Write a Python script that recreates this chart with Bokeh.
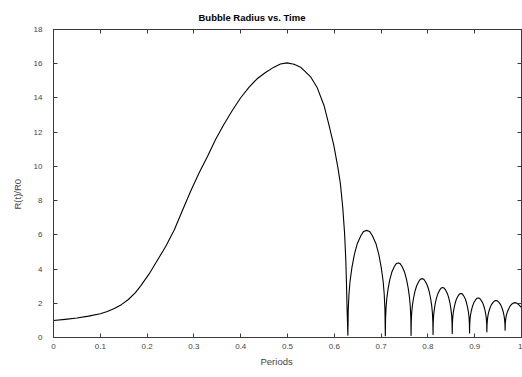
from bokeh.plotting import figure
from bokeh.models import FixedTicker, LinearAxis, Range1d, Title
from bokeh.embed import file_html
from bokeh.resources import INLINE

# ---- data ----
t_main = [0.000, 0.025, 0.050, 0.075, 0.100, 0.115, 0.130, 0.145, 0.160, 0.175, 0.186, 0.204,
          0.222, 0.240, 0.258, 0.275, 0.293, 0.311, 0.329, 0.346, 0.364, 0.382, 0.400, 0.418,
          0.435, 0.453, 0.471, 0.485, 0.499, 0.514, 0.528, 0.549, 0.563, 0.578, 0.588, 0.599,
          0.6075, 0.613, 0.618, 0.622, 0.6246, 0.626, 0.6274, 0.629]
r_main = [0.99, 1.06, 1.14, 1.25, 1.39, 1.52, 1.69, 1.92, 2.22, 2.62, 3.00, 3.70,
          4.51, 5.33, 6.28, 7.39, 8.55, 9.61, 10.58, 11.56, 12.45, 13.27, 14.01, 14.63,
          15.12, 15.49, 15.80, 15.98, 16.05, 15.97, 15.80, 15.25, 14.63, 13.56, 12.49, 11.23,
          9.96, 8.99, 7.63, 6.07, 4.51, 3.15, 1.59, 0.13]

t_b1 = [0.6298, 0.6314, 0.6337, 0.6377, 0.6428, 0.6488, 0.6567, 0.6626, 0.6690,
        0.6754, 0.6814, 0.6893, 0.6952, 0.7003, 0.7043, 0.7066, 0.7082, 0.709]
r_b1 = [1.64, 2.56, 3.30, 4.10, 4.84, 5.46, 5.95, 6.20, 6.26,
        6.20, 5.95, 5.46, 4.84, 4.10, 3.30, 2.56, 1.64, 0.10]

t_b2 = [0.7096, 0.7107, 0.7123, 0.7151, 0.7186, 0.7228, 0.7283, 0.7324, 0.7365,
        0.7406, 0.7448, 0.7503, 0.7544, 0.7580, 0.7607, 0.7624, 0.7635, 0.764]
r_b2 = [1.17, 1.80, 2.32, 2.87, 3.38, 3.81, 4.15, 4.32, 4.36,
        4.32, 4.15, 3.81, 3.38, 2.87, 2.32, 1.80, 1.17, 0.12]

t_b3 = [0.7645, 0.7654, 0.7668, 0.7692, 0.7722, 0.7758, 0.7805, 0.7840, 0.7875,
        0.7910, 0.7946, 0.7993, 0.8028, 0.8058, 0.8082, 0.8096, 0.8105, 0.811]
r_b3 = [0.95, 1.45, 1.85, 2.28, 2.68, 3.01, 3.27, 3.41, 3.44,
        3.41, 3.27, 3.01, 2.68, 2.28, 1.85, 1.45, 0.95, 0.17]

t_b4 = [0.8114, 0.8122, 0.8135, 0.8155, 0.8182, 0.8213, 0.8254, 0.8284, 0.8315,
        0.8346, 0.8377, 0.8418, 0.8448, 0.8475, 0.8495, 0.8508, 0.8516, 0.852]
r_b4 = [0.86, 1.27, 1.60, 1.96, 2.29, 2.56, 2.78, 2.89, 2.92,
        2.89, 2.78, 2.56, 2.29, 1.96, 1.60, 1.27, 0.86, 0.23]

t_b5 = [0.8524, 0.8531, 0.8542, 0.8561, 0.8585, 0.8613, 0.8650, 0.8677, 0.8705,
        0.8733, 0.8760, 0.8798, 0.8825, 0.8849, 0.8868, 0.8879, 0.8886, 0.889]
r_b5 = [0.82, 1.17, 1.45, 1.75, 2.03, 2.27, 2.45, 2.55, 2.57,
        2.55, 2.45, 2.27, 2.03, 1.75, 1.45, 1.17, 0.82, 0.27]

t_b6 = [0.8894, 0.8901, 0.8912, 0.8931, 0.8955, 0.8983, 0.9020, 0.9047, 0.9075,
        0.9103, 0.9130, 0.9168, 0.9195, 0.9219, 0.9238, 0.9249, 0.9256, 0.926]
r_b6 = [0.78, 1.09, 1.33, 1.60, 1.84, 2.04, 2.21, 2.29, 2.31,
        2.29, 2.21, 2.04, 1.84, 1.60, 1.33, 1.09, 0.78, 0.33]

t_b7 = [0.9264, 0.9272, 0.9283, 0.9303, 0.9328, 0.9358, 0.9397, 0.9426, 0.9455,
        0.9484, 0.9514, 0.9553, 0.9582, 0.9607, 0.9627, 0.9638, 0.9646, 0.965]
r_b7 = [0.79, 1.06, 1.28, 1.52, 1.74, 1.92, 2.07, 2.14, 2.16,
        2.14, 2.07, 1.92, 1.74, 1.52, 1.28, 1.06, 0.79, 0.43]

t_b8 = [0.9654, 0.9663, 0.9675, 0.9696, 0.9724, 0.9755, 0.9797, 0.9829, 0.986,
        0.9892, 0.9923, 0.9965, 1.0]
r_b8 = [0.83, 1.07, 1.27, 1.48, 1.67, 1.83, 1.96, 2.02, 2.04,
        2.02, 1.96, 1.85, 1.75]

x_ticks = [0, 0.1, 0.2, 0.3, 0.4, 0.5, 0.6, 0.7, 0.8, 0.9, 1.0]
x_tick_labels = ["0", "0.1", "0.2", "0.3", "0.4", "0.5", "0.6", "0.7", "0.8", "0.9", "1"]
y_ticks = [0, 2, 4, 6, 8, 10, 12, 14, 16, 18]
y_tick_labels = ["0", "2", "4", "6", "8", "10", "12", "14", "16", "18"]

title_text = "Bubble Radius vs. Time"
x_label = "Periods"
y_label = "R(t)/R0"

t_all = t_main + t_b1 + t_b2 + t_b3 + t_b4 + t_b5 + t_b6 + t_b7 + t_b8
r_all = r_main + r_b1 + r_b2 + r_b3 + r_b4 + r_b5 + r_b6 + r_b7 + r_b8

FONT = "Liberation Sans"
AX = "#3a3a3a"
LBL = "#444444"

p = figure(width=522, height=377, output_backend="svg", toolbar_location=None,
           x_range=Range1d(0, 1), y_range=Range1d(0, 18),
           min_border_left=53, min_border_right=1, min_border_top=29, min_border_bottom=40)
p.title.visible = False

p.line(t_all, r_all, line_color="black", line_width=1.1, line_join="round")

p.xgrid.visible = False
p.ygrid.visible = False
p.outline_line_color = AX
p.background_fill_color = "white"
p.border_fill_color = "white"

def style(ax, ticks, labels, show_labels=True):
    ax.ticker = FixedTicker(ticks=ticks)
    ax.major_label_overrides = {t: (l if show_labels else "") for t, l in zip(ticks, labels)}
    ax.major_tick_in = 4
    ax.major_tick_out = 0
    ax.minor_tick_line_color = None
    ax.axis_line_color = AX
    ax.major_tick_line_color = AX
    ax.major_label_text_font = FONT
    ax.major_label_text_color = LBL
    ax.major_label_text_font_size = "8px"
    if not show_labels:
        ax.major_label_standoff = 0

style(p.xaxis[0], x_ticks, x_tick_labels)
p.xaxis[0].major_label_standoff = 6

style(p.yaxis[0], y_ticks, y_tick_labels)
p.yaxis[0].major_label_standoff = 11
p.yaxis[0].major_label_text_baseline = "alphabetic"

top = LinearAxis()
style(top, x_ticks, x_tick_labels, show_labels=False)
p.add_layout(top, "above")
right = LinearAxis()
style(right, y_ticks, y_tick_labels, show_labels=False)
p.add_layout(right, "right")

t_top = Title(text=title_text, align="left", offset=145, text_font=FONT,
              text_font_size="9.5px", text_font_style="bold", text_color="#000000", standoff=14)
p.add_layout(t_top, "above")

t_x = Title(text=x_label, align="left", offset=207, text_font=FONT,
            text_font_size="9.5px", text_font_style="normal", text_color=LBL, standoff=4)
p.add_layout(t_x, "below")

t_y = Title(text=y_label, align="left", offset=128, text_font=FONT,
            text_font_size="9.5px", text_font_style="normal", text_color=LBL, standoff=15)
p.add_layout(t_y, "left")

open("out.html", "w").write(file_html(p, INLINE))
